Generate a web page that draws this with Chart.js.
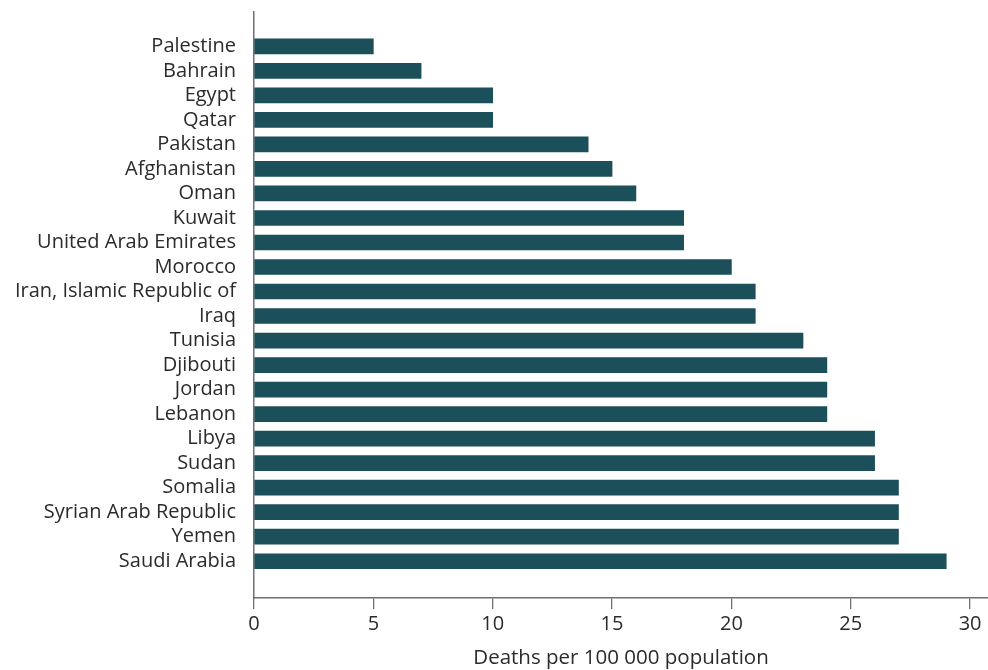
<!DOCTYPE html>
<html>
<head>
<meta charset="utf-8">
<script src="https://cdn.jsdelivr.net/npm/chart.js@4"></script>
<style>
	html, body { margin: 0; padding: 0; background: #fff; }
	#wrap { width: 988px; height: 670px; }
</style>
</head>
<body>
<div id="wrap"><canvas id="bar-1" width="988" height="670"></canvas></div>
<script>
const countries = ["Palestine", "Bahrain", "Egypt", "Qatar", "Pakistan", "Afghanistan", "Oman", "Kuwait", "United Arab Emirates", "Morocco", "Iran, Islamic Republic of", "Iraq", "Tunisia", "Djibouti", "Jordan", "Lebanon", "Libya", "Sudan", "Somalia", "Syrian Arab Republic", "Yemen", "Saudi Arabia"];
const deaths = [5, 7, 10, 10, 14, 15, 16, 18, 18, 20, 21, 21, 23, 24, 24, 24, 26, 26, 27, 27, 27, 29];
const xTitle = "Deaths per 100 000 population";

const fontFamily = "'Open Sans', 'Noto Sans', sans-serif";
const textColor = "#2b2b2b";
const axisColor = "#707070";

// one point per country, y is the row index
function formPoints(values) {
	let pts = [];
	for (let i = 0; i < values.length; i++) {
		pts.push({ x: values[i], y: i });
	}
	return pts;
}

const config_b1 = {
	type: "bar",
	data: {
		datasets: [
			{
				label: xTitle,
				data: formPoints(deaths),
				backgroundColor: "#1b4f59",
				barThickness: 15,
			},
		],
	},
	options: {
		responsive: false,
		animation: false,
		indexAxis: "y",
		layout: { padding: { top: 12, left: 0, right: 0, bottom: 0 } },
		plugins: {
			legend: { display: false },
			tooltip: { enabled: false },
		},
		scales: {
			x: {
				type: "linear",
				min: 0,
				max: 30.75,
				grid: { drawOnChartArea: false, drawTicks: true, tickLength: 11, color: axisColor, lineWidth: 1.3 },
				border: { display: true, color: axisColor, width: 1.5 },
				ticks: {
					stepSize: 5,
					includeBounds: false,
					padding: 3,
					color: textColor,
					font: { family: fontFamily, size: 20 },
				},
				title: {
					display: true,
					text: xTitle,
					color: textColor,
					padding: { top: 0, bottom: 0 },
					font: { family: fontFamily, size: 20.5 },
				},
				afterFit: (scale) => {
					scale.height = 72;
				},
			},
			y: {
				type: "linear",
				offset: false,
				reverse: true,
				min: -1.4,
				max: 22.5,
				grid: { display: false, drawTicks: false },
				border: { display: true, color: axisColor, width: 1.5 },
				ticks: {
					stepSize: 1,
					autoSkip: false,
					padding: 18,
					color: textColor,
					font: { family: fontFamily, size: 20 },
					callback: (value) => (Number.isInteger(value) && countries[value] ? countries[value] : ""),
				},
				afterFit: (scale) => {
					scale.width = 254;
					scale.paddingTop = 0;
					scale.paddingBottom = 0;
				},
			},
		},
	},
};

new Chart(document.getElementById("bar-1"), config_b1);
</script>
</body>
</html>
